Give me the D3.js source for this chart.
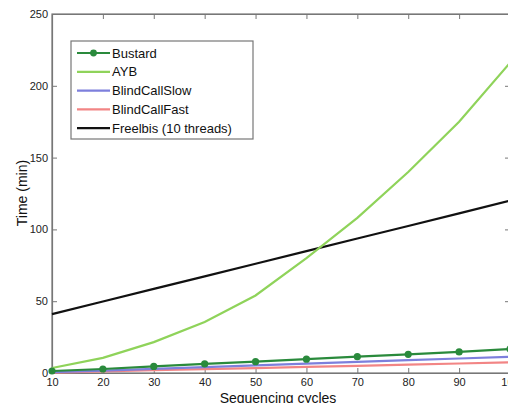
<!DOCTYPE html>
<html>
<head>
<meta charset="utf-8">
<script src="https://cdn.jsdelivr.net/npm/d3@7"></script>
<style>
  body { margin: 0; background: #fff; }
  svg { display: block; font-family: "Liberation Sans", Arial, sans-serif; }
</style>
</head>
<body>
<svg id="chart" width="508" height="403"></svg>
<script>
// data
var cycles = [10, 20, 30, 40, 50, 60, 70, 80, 90, 100];
var bustard = [1.4, 2.8, 4.6, 6.3, 7.9, 9.6, 11.4, 13.0, 14.7, 16.7];
var ayb = [3.5, 10.5, 21.5, 35.5, 54, 80, 108, 140, 175, 216];
var blindSlow = [0.6, 1.7, 2.9, 4.1, 5.3, 6.5, 7.7, 8.9, 10.1, 11.3];
var blindFast = [0.3, 1.1, 1.9, 2.7, 3.4, 4.2, 5.0, 5.8, 6.6, 7.4];
var freelbis = [41, 49.8, 58.6, 67.3, 76.1, 84.9, 93.7, 102.4, 111.2, 120];
var yTicks = [0, 50, 100, 150, 200, 250];

var series = [
    {name: "Bustard", values: bustard, color: "#2a8a3c", marker: true},
    {name: "AYB", values: ayb, color: "#8fd35a", marker: false},
    {name: "BlindCallSlow", values: blindSlow, color: "#7d7fdc", marker: false},
    {name: "BlindCallFast", values: blindFast, color: "#f28585", marker: false},
    {name: "Freelbis (10 threads)", values: freelbis, color: "#111111", marker: false}
];

var svg = d3.select("#chart");
var plotLeft = 52, plotRight = 510, plotTop = 14, plotBottom = 373;

var x = d3.scaleLinear().domain([10, 100]).range([plotLeft, plotRight]);
var y = d3.scaleLinear().domain([0, 250]).range([plotBottom, plotTop]);

// frame
svg.append("rect")
    .attr("x", plotLeft).attr("y", plotTop)
    .attr("width", plotRight - plotLeft).attr("height", plotBottom - plotTop)
    .attr("fill", "none").attr("stroke", "#777").attr("stroke-width", 1.2);

// axes, ticks pointing inwards like matlab
var xAxis = svg.append("g").attr("transform", "translate(0," + plotBottom + ")")
    .call(d3.axisBottom(x).tickValues(cycles).tickSizeInner(-5).tickSizeOuter(0).tickPadding(5));
var xTop = svg.append("g").attr("transform", "translate(0," + plotTop + ")")
    .call(d3.axisTop(x).tickValues(cycles).tickSizeInner(-5).tickSizeOuter(0).tickFormat(""));
var yAxis = svg.append("g").attr("transform", "translate(" + plotLeft + ",0)")
    .call(d3.axisLeft(y).tickValues(yTicks).tickSizeInner(-5).tickSizeOuter(0).tickPadding(4));
var yRight = svg.append("g").attr("transform", "translate(" + plotRight + ",0)")
    .call(d3.axisRight(y).tickValues(yTicks).tickSizeInner(-5).tickSizeOuter(0).tickFormat(""));

[xAxis, xTop, yAxis, yRight].forEach(function(g) {
    g.select(".domain").attr("stroke", "#777").attr("stroke-width", 1.2);
    g.selectAll(".tick line").attr("stroke", "#777");
    g.selectAll("text").attr("fill", "#222").style("font-size", "11px")
        .style("font-family", "'Liberation Sans', Arial, sans-serif");
});

// lines
var line = d3.line()
    .x(function(d, i) { return x(cycles[i]); })
    .y(function(d) { return y(d); });

var drawOrder = [4, 3, 2, 1, 0];
drawOrder.forEach(function(k) {
    var s = series[k];
    svg.append("path")
        .datum(s.values)
        .attr("fill", "none")
        .attr("stroke", s.color)
        .attr("stroke-width", 2.2)
        .attr("d", line);
    if (s.marker) {
        svg.selectAll(".dot")
            .data(s.values)
            .enter()
            .append("circle")
            .attr("class", "dot")
            .attr("cx", function(d, i) { return x(cycles[i]); })
            .attr("cy", function(d) { return y(d); })
            .attr("r", 3.6)
            .attr("fill", s.color);
    }
});

// legend
var legend = svg.append("g").attr("transform", "translate(71,41)");
legend.append("rect")
    .attr("width", 182).attr("height", 98)
    .attr("fill", "#fff").attr("stroke", "#777").attr("stroke-width", 1.2);

var entry = legend.selectAll(".entry")
    .data(series)
    .enter()
    .append("g")
    .attr("class", "entry")
    .attr("transform", function(d, i) { return "translate(0," + (12 + i * 18.8) + ")"; });

entry.append("line")
    .attr("x1", 6).attr("x2", 39)
    .attr("stroke", function(d) { return d.color; })
    .attr("stroke-width", 2.2);
entry.filter(function(d) { return d.marker; })
    .append("circle")
    .attr("cx", 22.5).attr("r", 3.4)
    .attr("fill", function(d) { return d.color; });
entry.append("text")
    .attr("x", 41).attr("dy", "0.36em")
    .style("font-size", "13px")
    .attr("fill", "#111")
    .text(function(d) { return d.name; });

// axis labels
svg.append("text")
    .attr("transform", "translate(27,193) rotate(-90)")
    .attr("text-anchor", "middle")
    .style("font-size", "14px")
    .attr("fill", "#111")
    .text("Time (min)");

svg.append("text")
    .attr("x", 278).attr("y", 403)
    .attr("text-anchor", "middle")
    .style("font-size", "14px")
    .attr("fill", "#111")
    .text("Sequencing cycles");
</script>
</body>
</html>
